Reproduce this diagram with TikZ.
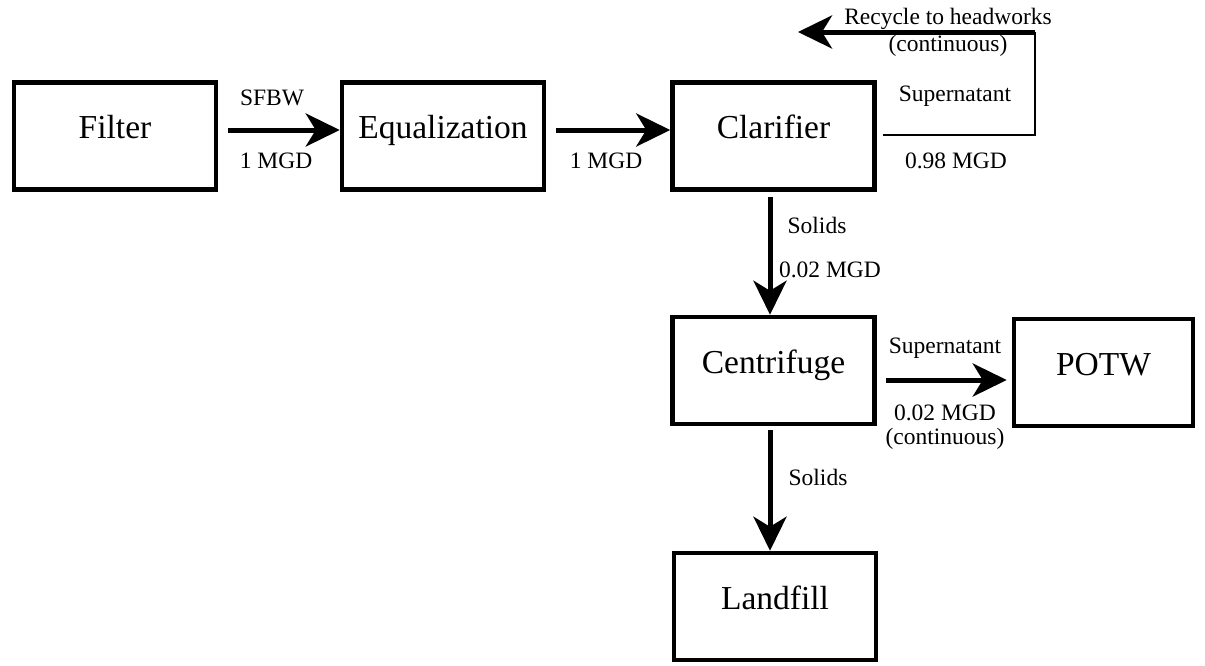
\documentclass[tikz,border=0pt]{standalone}
\usepackage{fontspec}
\setmainfont{Liberation Serif}
\usetikzlibrary{arrows.meta}
\begin{document}
\begin{tikzpicture}[x=1pt,y=-1pt,
 box/.style={draw,line width=4.5pt,minimum width=202pt,minimum height=107pt,inner sep=0pt,font=\fontsize{33.5}{40}\selectfont,text height=24pt,text depth=19pt},
 flow/.style={line width=5pt,-{Stealth[length=34pt,width=33pt,inset=10pt]}},
 thinline/.style={line width=1.3pt},
 lbl/.style={font=\fontsize{23.5}{28}\selectfont,anchor=base,inner sep=0pt}]
\useasboundingbox (0,0) rectangle (1205,665);
% boxes
\node[box] (filter) at (115,136) {Filter};
\node[box] (eq) at (443,136) {Equalization};
\node[box] (clar) at (773.5,136) {Clarifier};
\node[box] (cent) at (773.5,370.5) {Centrifuge};
\node[box,minimum width=179pt] (potw) at (1103.5,372.5) {POTW};
\node[box] (land) at (775,606.5) {Landfill};
% connectors
\draw[flow] ([shift={(10pt,6pt)}]filter.east) -- ([yshift=6pt]eq.west);
\draw[flow] ([shift={(10pt,6pt)}]eq.east) -- ([yshift=6pt]clar.west);
\draw[flow] ([shift={(-3.5pt,-5pt)}]clar.south) -- ([xshift=-3.5pt]cent.north);
\draw[flow] ([shift={(9pt,-9.5pt)}]cent.east) -- ([shift={(-5pt,-7.5pt)}]potw.west);
\draw[flow] ([shift={(-3.5pt,-4pt)}]cent.south) -- ([xshift=-5pt]land.north);
% recycle
\coordinate (rtop) at (1035,32);
\coordinate (rend) at (798,32);
\draw[thinline] ([shift={(6pt,1pt)}]clar.east) -| (rtop);
\draw[flow] (rtop) -- (rend);
% labels
\node[lbl] (sfbw) at (272,105) {SFBW};
\node[lbl] (q1) at (276,168) {1 MGD};
\node[lbl] (q2) at (606,168) {1 MGD};
\node[lbl] (rec) at (948,24) {Recycle to headworks};
\node[lbl] (cont1) at (948,51) {(continuous)};
\node[lbl] (sup1) at (955,101) {Supernatant};
\node[lbl] (q3) at (956,168) {0.98 MGD};
\node[lbl] (sol1) at (817,233) {Solids};
\node[lbl] (q4) at (830,277) {0.02 MGD};
\node[lbl] (sup2) at (945,353) {Supernatant};
\node[lbl] (q5) at (945,420) {0.02 MGD};
\node[lbl] (cont2) at (945,444) {(continuous)};
\node[lbl] (sol2) at (818,485) {Solids};
\end{tikzpicture}
\end{document}
